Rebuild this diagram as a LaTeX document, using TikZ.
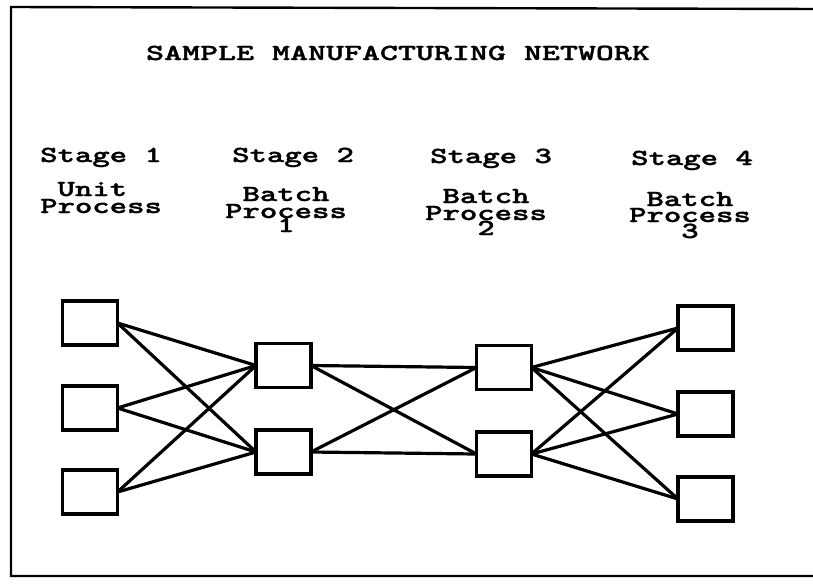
\documentclass[tikz,border=0pt]{standalone}
\usepackage{fontspec}
\usepackage{graphicx}
% heavy typewriter face, widened like a printer font
\newfontfamily\twfont{lmmonolt10-bold.otf}[FakeBold=1.2]
\tikzset{
  procbox/.style={draw, line width=3.2pt, minimum width=55pt, minimum height=44pt,
    inner sep=0pt, outer sep=0pt},
  link/.style={line width=3.2pt},
  frame/.style={line width=2.4pt},
  txt/.style={inner sep=0pt, font=\twfont\fontsize{23}{23}\selectfont},
}
\newcommand\widetext[1]{\scalebox{1.44}[1]{#1}}
\newcommand\titletext[1]{\scalebox{1.49}[1]{#1}}
\begin{document}
\begin{tikzpicture}[x=1pt,y=-1pt]
\useasboundingbox (0,0) rectangle (813,584);
% outer frame (right side runs off the page)
\draw[frame] (820,9) -- (11,7) -- (11,576) -- (820,576);

% title
\node[txt, anchor=base] (title) at (398,60) {\titletext{SAMPLE MANUFACTURING NETWORK}};

% stage headings
\node[txt, anchor=base west] (st1) at (40,162) {\widetext{Stage 1}};
\node[txt, anchor=base west] (st2) at (232,162) {\widetext{Stage 2}};
\node[txt, anchor=base west] (st3) at (430,163) {\widetext{Stage 3}};
\node[txt, anchor=base west] (st4) at (631,165) {\widetext{Stage 4}};

% process descriptions
\node[txt, anchor=base west] (d1a) at (40,196) {\widetext{\ Unit}};
\node[txt, anchor=base west] (d1b) at (40,213) {\widetext{Process}};

\node[txt, anchor=base] (d2a) at (286,201) {\widetext{Batch}};
\node[txt, anchor=base] (d2b) at (286,218) {\widetext{Process}};
\node[txt, anchor=base] (d2c) at (286,232) {\widetext{1}};

\node[txt, anchor=base] (d3a) at (486,203) {\widetext{Batch}};
\node[txt, anchor=base] (d3b) at (486,220) {\widetext{Process}};
\node[txt, anchor=base] (d3c) at (486,235) {\widetext{2}};

\node[txt, anchor=base] (d4a) at (690,206) {\widetext{Batch}};
\node[txt, anchor=base] (d4b) at (690,222) {\widetext{Process}};
\node[txt, anchor=base] (d4c) at (690,238) {\widetext{3}};

% process units
\node[procbox] (a1) at (90,323) {};
\node[procbox] (a2) at (90,408) {};
\node[procbox] (a3) at (90,492) {};

\node[procbox] (b1) at (283.5,365.5) {};
\node[procbox] (b2) at (283.5,452) {};

\node[procbox] (c1) at (504,367.5) {};
\node[procbox] (c2) at (504,454) {};

\node[procbox] (e1) at (705.5,328) {};
\node[procbox] (e2) at (705.5,414) {};
\node[procbox] (e3) at (705.5,499) {};

% stage 1 -> stage 2
\foreach \s in {a1,a2,a3}
  \foreach \t in {b1,b2}
    \draw[link] (\s.east) -- (\t.west);
% stage 2 -> stage 3
\foreach \s in {b1,b2}
  \foreach \t in {c1,c2}
    \draw[link] (\s.east) -- (\t.west);
% stage 3 -> stage 4
\foreach \s in {c1,c2}
  \foreach \t in {e1,e2,e3}
    \draw[link] (\s.east) -- (\t.west);
\end{tikzpicture}
\end{document}
